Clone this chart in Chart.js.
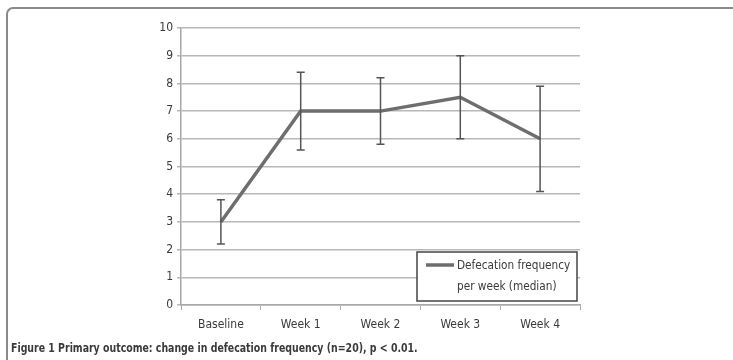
<!DOCTYPE html>
<html>
<head>
<meta charset="utf-8">
<script src="https://cdn.jsdelivr.net/npm/chart.js@4"></script>
<style>
  html, body { margin: 0; padding: 0; background: #fff; }
  #wrap { position: relative; width: 733px; height: 360px; overflow: hidden; }
  #frame {
    position: absolute; left: 6px; top: 7px; width: 760px; height: 400px;
    border-top: 2px solid #8a8a8a; border-left: 2px solid #8a8a8a;
    border-top-left-radius: 7px;
  }
  #caption {
    position: absolute; left: 11px; top: 341px; white-space: nowrap;
    font: bold 12px "Liberation Sans Narrow", "DejaVu Sans Condensed", sans-serif;
    color: #3a3a3a;
    transform: scaleX(0.87); transform-origin: left top;
  }
  canvas { position: absolute; left: 0; top: 0; }
</style>
</head>
<body>
<div id="wrap">
  <div id="frame"></div>
  <canvas id="primary-outcome-plot" width="733" height="360"></canvas>
  <div id="caption">Figure 1 Primary outcome: change in defecation frequency (n=20), p &lt; 0.01.</div>
</div>
<script>
const weeks = ["Baseline", "Week 1", "Week 2", "Week 3", "Week 4"];
const medianFrequency = [3, 7, 7, 7.5, 6];
const lowerBound = [2.2, 5.6, 5.8, 6.0, 4.1];
const upperBound = [3.8, 8.4, 8.2, 9.0, 7.9];
const yTicks = [0, 1, 2, 3, 4, 5, 6, 7, 8, 9, 10];
const legendLines = ["Defecation frequency", "per week (median)"];

const fontFamily = '"Liberation Sans Narrow", "DejaVu Sans Condensed", sans-serif';

// error bars drawn from the lower/upper arrays through the scales
const errorBarPlugin = {
    id: "errorBars",
    afterDatasetsDraw(chart) {
        const ctx = chart.ctx;
        const x = chart.scales.x;
        const y = chart.scales.y;
        ctx.save();
        ctx.strokeStyle = "#555555";
        ctx.lineWidth = 1.5;
        weeks.forEach((w, i) => {
            const px = x.getPixelForValue(i);
            const top = y.getPixelForValue(upperBound[i]);
            const bottom = y.getPixelForValue(lowerBound[i]);
            ctx.beginPath();
            ctx.moveTo(px, top);
            ctx.lineTo(px, bottom);
            ctx.moveTo(px - 4, top);
            ctx.lineTo(px + 4, top);
            ctx.moveTo(px - 4, bottom);
            ctx.lineTo(px + 4, bottom);
            ctx.stroke();
        });
        ctx.restore();
    }
};

// legend box sitting inside the bottom right of the plot
const legendBoxPlugin = {
    id: "legendBox",
    afterDraw(chart) {
        const ctx = chart.ctx;
        const area = chart.chartArea;
        const w = 160, h = 49;
        const left = area.right - w - 3;
        const top = area.bottom - h - 4;
        ctx.save();
        ctx.fillStyle = "#ffffff";
        ctx.fillRect(left, top, w, h);
        ctx.strokeStyle = "#444444";
        ctx.lineWidth = 1.5;
        ctx.strokeRect(left, top, w, h);
        ctx.strokeStyle = "#6e6e6e";
        ctx.lineWidth = 3.5;
        ctx.beginPath();
        ctx.moveTo(left + 9, top + 13);
        ctx.lineTo(left + 37, top + 13);
        ctx.stroke();
        ctx.fillStyle = "#3a3a3a";
        ctx.font = "13px " + fontFamily;
        ctx.textBaseline = "middle";
        // squeeze the text a little, the original uses a narrow face
        ctx.translate(left + 40, top);
        ctx.scale(0.9, 1);
        ctx.fillText(legendLines[0], 0, 14);
        ctx.fillText(legendLines[1], 0, 35);
        ctx.restore();
    }
};

new Chart("primary-outcome-plot", {
    type: "line",
    data: {
        labels: weeks,
        datasets: [{
            label: legendLines.join(" "),
            data: medianFrequency,
            borderColor: "#6e6e6e",
            borderWidth: 3.5,
            pointRadius: 0,
            tension: 0,
            fill: false
        }]
    },
    options: {
        responsive: false,
        animation: false,
        layout: { padding: { left: 141, right: 153, top: 28, bottom: 25 } },
        plugins: {
            legend: { display: false },
            tooltip: { enabled: false }
        },
        scales: {
            x: {
                offset: true,
                grid: {
                    offset: true,
                    drawOnChartArea: false,
                    drawTicks: true,
                    tickLength: 5,
                    color: "#a8a8a8"
                },
                border: { color: "#a8a8a8", width: 1.5 },
                ticks: {
                    color: "#3a3a3a",
                    font: { family: fontFamily, size: 12 },
                    padding: 8,
                    maxRotation: 0
                },
                afterFit: s => { s.height = 30; }
            },
            y: {
                min: 0,
                max: 10,
                afterBuildTicks: s => { s.ticks = yTicks.map(v => ({ value: v })); },
                grid: {
                    color: "#b8b8b8",
                    lineWidth: 1.5,
                    tickLength: 4
                },
                border: { color: "#a8a8a8", width: 1.5 },
                ticks: {
                    color: "#3a3a3a",
                    font: { family: fontFamily, size: 12 },
                    padding: 4
                },
                afterFit: s => { s.width = 40; }
            }
        }
    },
    plugins: [errorBarPlugin, legendBoxPlugin]
});
</script>
</body>
</html>
